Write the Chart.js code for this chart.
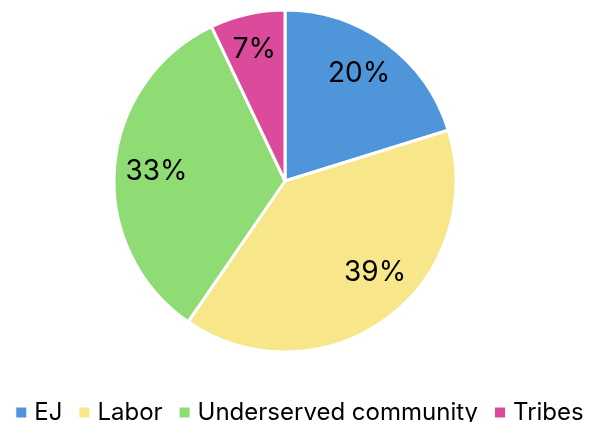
<!DOCTYPE html>
<html>
<head>
<meta charset="utf-8">
<script src="https://cdn.jsdelivr.net/npm/chart.js@4.4.1/dist/chart.umd.min.js"></script>
<style>
  html, body { margin: 0; padding: 0; background: #ffffff; }
  #wrap { position: relative; width: 592px; height: 422px; }
</style>
</head>
<body>
<div id="wrap"><canvas id="chart"></canvas></div>
<script>
// Share of items by group
const categories = ['EJ', 'Labor', 'Underserved community', 'Tribes'];
const shares = [20, 39, 33, 7];
const sliceColors = ['#4f95da', '#f7e68a', '#8fdb74', '#dc4a9b'];

const FONT = 'Inter, "Liberation Sans", Arial, sans-serif';

// Small nudges (px) for the percentage labels, one per slice
const labelNudge = [[-3, -3], [13, -13], [1, 1], [-2, -5]];

// Percentage labels placed inside each slice
const sliceLabels = {
  id: 'sliceLabels',
  afterDatasetsDraw(chart) {
    const { ctx } = chart;
    const meta = chart.getDatasetMeta(0);
    ctx.save();
    ctx.font = '28px ' + FONT;
    ctx.fillStyle = '#000000';
    ctx.textAlign = 'center';
    ctx.textBaseline = 'middle';
    meta.data.forEach((arc, i) => {
      const { x, y, startAngle, endAngle, outerRadius } = arc.getProps(
        ['x', 'y', 'startAngle', 'endAngle', 'outerRadius'], true);
      const mid = (startAngle + endAngle) / 2;
      const r = outerRadius * 0.76;
      ctx.fillText(shares[i] + '%',
        x + Math.cos(mid) * r + labelNudge[i][0],
        y + Math.sin(mid) * r + labelNudge[i][1]);
    });
    ctx.restore();
  }
};

// One-row legend under the pie: square swatch, then the category name
const rowLegend = {
  id: 'rowLegend',
  afterDraw(chart) {
    const { ctx } = chart;
    const box = 10, gap = 8, spacing = 17, baseline = 420, centerX = 300;
    ctx.save();
    ctx.font = '24px ' + FONT;
    ctx.textBaseline = 'alphabetic';
    ctx.textAlign = 'left';
    const widths = categories.map(c => box + gap + ctx.measureText(c).width);
    const total = widths.reduce((a, b) => a + b, 0) + spacing * (categories.length - 1);
    let x = centerX - total / 2;
    categories.forEach((c, i) => {
      ctx.fillStyle = sliceColors[i];
      ctx.fillRect(x, baseline - 12.5, box, box);
      ctx.fillStyle = '#000000';
      ctx.fillText(c, x + box + gap, baseline);
      x += widths[i] + spacing;
    });
    ctx.restore();
  }
};

new Chart(document.getElementById('chart'), {
  type: 'pie',
  data: {
    labels: categories,
    datasets: [{
      data: shares,
      backgroundColor: sliceColors,
      borderColor: '#ffffff',
      borderWidth: 3,
      radius: 171
    }]
  },
  options: {
    responsive: true,
    maintainAspectRatio: false,
    animation: false,
    layout: { padding: { top: 0, right: 22, bottom: 60, left: 0 } },
    plugins: {
      tooltip: { enabled: false },
      legend: { display: false }
    }
  },
  plugins: [sliceLabels, rowLegend]
});
</script>
</body>
</html>
